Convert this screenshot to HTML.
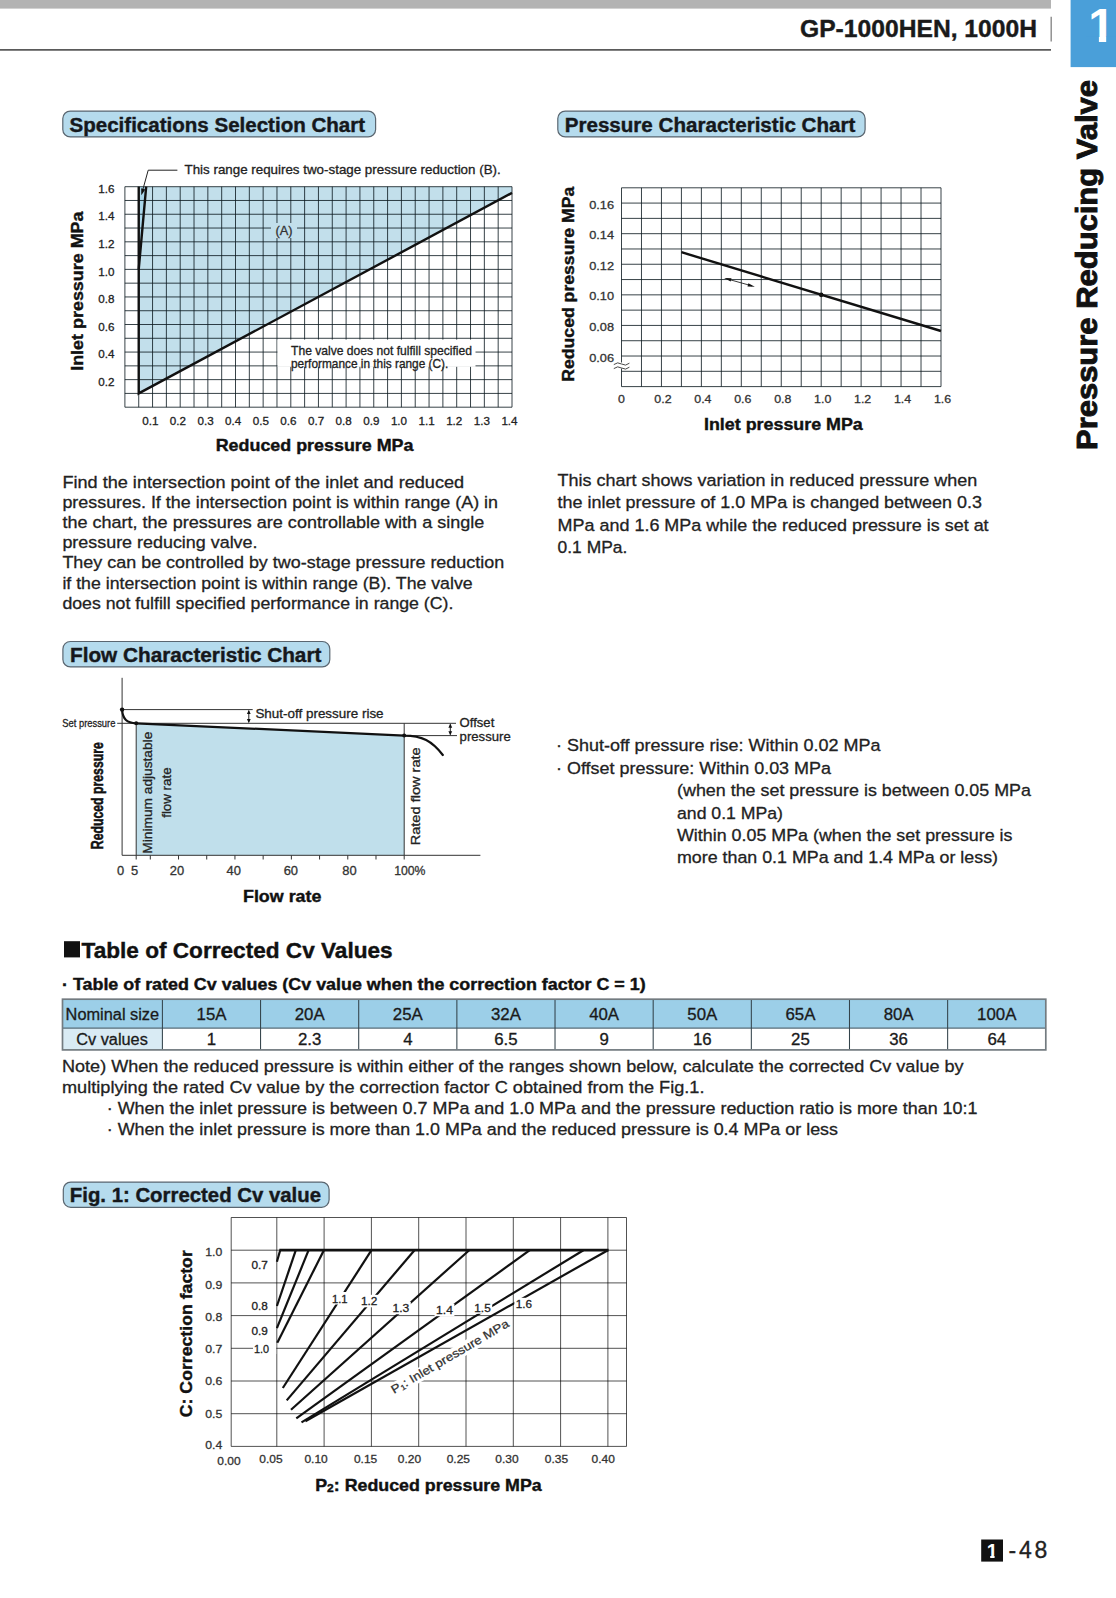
<!DOCTYPE html>
<html lang="en"><head><meta charset="utf-8"><title>GP-1000HEN, 1000H Pressure Reducing Valve</title>
<style>
html,body{margin:0;padding:0;background:#fff;}
body{width:1116px;height:1598px;overflow:hidden;font-family:"Liberation Sans",sans-serif;}
svg{display:block;font-family:"Liberation Sans",sans-serif;}
</style></head><body>
<svg width="1116" height="1598" viewBox="0 0 1116 1598">
<rect x="0.00" y="0.00" width="1051.00" height="8.60" fill="#b3b3b3"/>
<line x1="0.00" y1="49.80" x2="1051.00" y2="49.80" stroke="#5a5a5a" stroke-width="1.70"/>
<line x1="1051.20" y1="16.80" x2="1051.20" y2="41.60" stroke="#8a8a8a" stroke-width="1.40"/>
<rect x="1070.60" y="0.00" width="45.40" height="67.10" fill="#4a9fd9"/>
<text transform="translate(1101.50 41.70)" x="-13.26" y="0" font-size="47.70" font-weight="bold" fill="#fff" textLength="26.53" lengthAdjust="spacingAndGlyphs">1</text>
<rect x="1086.00" y="36.60" width="12.90" height="6.40" fill="#4a9fd9"/>
<rect x="1106.20" y="36.60" width="9.80" height="6.40" fill="#4a9fd9"/>
<text transform="translate(800.00 37.30)" x="0.00" y="0" font-size="24.60" font-weight="bold" fill="#1a1a1a" textLength="237.00" lengthAdjust="spacingAndGlyphs" stroke="#1a1a1a" stroke-width="0.40">GP-1000HEN, 1000H</text>
<text transform="translate(1097.30 450.00) rotate(-90.00)" x="0.00" y="0" font-size="30.00" font-weight="bold" fill="#111" textLength="370.00" lengthAdjust="spacingAndGlyphs" stroke="#111" stroke-width="0.9">Pressure Reducing Valve</text>
<rect x="981.20" y="1539.50" width="21.80" height="22.10" fill="#111"/>
<text transform="translate(992.20 1557.60)" x="-5.42" y="0" font-size="19.50" font-weight="bold" fill="#fff" textLength="10.85" lengthAdjust="spacingAndGlyphs">1</text>
<text transform="translate(1008.60 1558.40)" x="0.00" y="0" font-size="23.00" fill="#222" textLength="38.70" lengthAdjust="spacing" stroke="#222" stroke-width="0.30">-48</text>
<rect x="984.00" y="1555.40" width="6.20" height="3.60" fill="#111"/>
<rect x="994.60" y="1555.40" width="6.90" height="3.60" fill="#111"/>
<rect x="62.80" y="111.10" width="312.80" height="25.80" fill="#b5dbed" stroke="#5a6670" stroke-width="1.20" rx="7.50"/>
<text transform="translate(69.50 132.30)" x="0.00" y="0" font-size="20.00" font-weight="bold" fill="#15181c" textLength="295.60" lengthAdjust="spacingAndGlyphs" stroke="#15181c" stroke-width="0.40">Specifications Selection Chart</text>
<rect x="557.80" y="111.10" width="307.30" height="25.80" fill="#b5dbed" stroke="#5a6670" stroke-width="1.20" rx="7.50"/>
<text transform="translate(564.70 132.30)" x="0.00" y="0" font-size="20.00" font-weight="bold" fill="#15181c" textLength="290.60" lengthAdjust="spacingAndGlyphs" stroke="#15181c" stroke-width="0.40">Pressure Characteristic Chart</text>
<rect x="62.90" y="641.50" width="266.90" height="25.40" fill="#b5dbed" stroke="#5a6670" stroke-width="1.20" rx="7.50"/>
<text transform="translate(70.00 662.20)" x="0.00" y="0" font-size="20.00" font-weight="bold" fill="#15181c" textLength="251.40" lengthAdjust="spacingAndGlyphs" stroke="#15181c" stroke-width="0.40">Flow Characteristic Chart</text>
<rect x="63.30" y="1182.10" width="265.80" height="25.20" fill="#b5dbed" stroke="#5a6670" stroke-width="1.20" rx="7.50"/>
<text transform="translate(69.80 1202.30)" x="0.00" y="0" font-size="20.00" font-weight="bold" fill="#15181c" textLength="251.20" lengthAdjust="spacingAndGlyphs" stroke="#15181c" stroke-width="0.40">Fig. 1: Corrected Cv value</text>
<polygon points="138.72,393.42 138.72,186.70 512.00,186.70 512.00,192.90" fill="#c2dfeb"/>
<polygon points="138.72,269.39 138.72,186.70 146.19,186.70" fill="#a9d6ea"/>
<path d="M124.90 186.70V407.20M138.72 186.70V407.20M152.55 186.70V407.20M166.38 186.70V407.20M180.20 186.70V407.20M194.03 186.70V407.20M207.85 186.70V407.20M221.68 186.70V407.20M235.50 186.70V407.20M249.33 186.70V407.20M263.15 186.70V407.20M276.98 186.70V407.20M290.80 186.70V407.20M304.62 186.70V407.20M318.45 186.70V407.20M332.28 186.70V407.20M346.10 186.70V407.20M359.93 186.70V407.20M373.75 186.70V407.20M387.58 186.70V407.20M401.40 186.70V407.20M415.23 186.70V407.20M429.05 186.70V407.20M442.88 186.70V407.20M456.70 186.70V407.20M470.52 186.70V407.20M484.35 186.70V407.20M498.18 186.70V407.20M512.00 186.70V407.20M124.90 186.70H512.00M124.90 200.48H512.00M124.90 214.26H512.00M124.90 228.04H512.00M124.90 241.82H512.00M124.90 255.61H512.00M124.90 269.39H512.00M124.90 283.17H512.00M124.90 296.95H512.00M124.90 310.73H512.00M124.90 324.51H512.00M124.90 338.29H512.00M124.90 352.07H512.00M124.90 365.86H512.00M124.90 379.64H512.00M124.90 393.42H512.00M124.90 407.20H512.00" stroke="#0c1a20" stroke-opacity="0.82" stroke-width="1" fill="none"/>
<polyline points="146.19,186.70 138.72,269.39 138.72,393.42 512.00,192.90" fill="none" stroke="#111" stroke-width="2.40" stroke-linejoin="miter"/>
<line x1="138.72" y1="186.70" x2="138.72" y2="269.39" stroke="#111" stroke-width="2.40"/>
<rect x="271.00" y="223.00" width="26.00" height="15.00" fill="#c2dfeb"/>
<text transform="translate(284.00 234.50)" x="-8.54" y="0" font-size="12.20" fill="#333" textLength="17.08" lengthAdjust="spacingAndGlyphs" stroke="#333" stroke-width="0.30">(A)</text>
<rect x="277.50" y="339.60" width="198.00" height="27.20" fill="#fff"/>
<text transform="translate(291.00 354.50)" x="0.00" y="0" font-size="12.20" fill="#222" textLength="181.00" lengthAdjust="spacingAndGlyphs" stroke="#222" stroke-width="0.30">The valve does not fulfill specified</text>
<text transform="translate(291.00 367.80)" x="0.00" y="0" font-size="12.20" fill="#222" textLength="157.30" lengthAdjust="spacingAndGlyphs" stroke="#222" stroke-width="0.30">performance in this range (C).</text>
<polyline points="177.40,170.20 148.20,170.20 142.60,190.50" fill="none" stroke="#222" stroke-width="1.00"/>
<polygon points="141.30,195.20 141.20,188.30 145.30,189.60" fill="#111"/>
<text transform="translate(184.50 174.40)" x="0.00" y="0" font-size="12.80" fill="#222" textLength="316.20" lengthAdjust="spacingAndGlyphs" stroke="#222" stroke-width="0.30">This range requires two-stage pressure reduction (B).</text>
<text transform="translate(98.20 385.84)" x="0.00" y="0" font-size="11.80" fill="#222" textLength="16.20" lengthAdjust="spacingAndGlyphs" stroke="#222" stroke-width="0.30">0.2</text>
<text transform="translate(98.20 358.27)" x="0.00" y="0" font-size="11.80" fill="#222" textLength="16.20" lengthAdjust="spacingAndGlyphs" stroke="#222" stroke-width="0.30">0.4</text>
<text transform="translate(98.20 330.71)" x="0.00" y="0" font-size="11.80" fill="#222" textLength="16.20" lengthAdjust="spacingAndGlyphs" stroke="#222" stroke-width="0.30">0.6</text>
<text transform="translate(98.20 303.15)" x="0.00" y="0" font-size="11.80" fill="#222" textLength="16.20" lengthAdjust="spacingAndGlyphs" stroke="#222" stroke-width="0.30">0.8</text>
<text transform="translate(98.20 275.59)" x="0.00" y="0" font-size="11.80" fill="#222" textLength="16.20" lengthAdjust="spacingAndGlyphs" stroke="#222" stroke-width="0.30">1.0</text>
<text transform="translate(98.20 248.02)" x="0.00" y="0" font-size="11.80" fill="#222" textLength="16.20" lengthAdjust="spacingAndGlyphs" stroke="#222" stroke-width="0.30">1.2</text>
<text transform="translate(98.20 220.46)" x="0.00" y="0" font-size="11.80" fill="#222" textLength="16.20" lengthAdjust="spacingAndGlyphs" stroke="#222" stroke-width="0.30">1.4</text>
<text transform="translate(98.20 192.90)" x="0.00" y="0" font-size="11.80" fill="#222" textLength="16.20" lengthAdjust="spacingAndGlyphs" stroke="#222" stroke-width="0.30">1.6</text>
<text transform="translate(150.30 425.00)" x="-8.10" y="0" font-size="11.80" fill="#222" textLength="16.20" lengthAdjust="spacingAndGlyphs" stroke="#222" stroke-width="0.30">0.1</text>
<text transform="translate(177.93 425.00)" x="-8.10" y="0" font-size="11.80" fill="#222" textLength="16.20" lengthAdjust="spacingAndGlyphs" stroke="#222" stroke-width="0.30">0.2</text>
<text transform="translate(205.56 425.00)" x="-8.10" y="0" font-size="11.80" fill="#222" textLength="16.20" lengthAdjust="spacingAndGlyphs" stroke="#222" stroke-width="0.30">0.3</text>
<text transform="translate(233.19 425.00)" x="-8.10" y="0" font-size="11.80" fill="#222" textLength="16.20" lengthAdjust="spacingAndGlyphs" stroke="#222" stroke-width="0.30">0.4</text>
<text transform="translate(260.82 425.00)" x="-8.10" y="0" font-size="11.80" fill="#222" textLength="16.20" lengthAdjust="spacingAndGlyphs" stroke="#222" stroke-width="0.30">0.5</text>
<text transform="translate(288.45 425.00)" x="-8.10" y="0" font-size="11.80" fill="#222" textLength="16.20" lengthAdjust="spacingAndGlyphs" stroke="#222" stroke-width="0.30">0.6</text>
<text transform="translate(316.08 425.00)" x="-8.10" y="0" font-size="11.80" fill="#222" textLength="16.20" lengthAdjust="spacingAndGlyphs" stroke="#222" stroke-width="0.30">0.7</text>
<text transform="translate(343.71 425.00)" x="-8.10" y="0" font-size="11.80" fill="#222" textLength="16.20" lengthAdjust="spacingAndGlyphs" stroke="#222" stroke-width="0.30">0.8</text>
<text transform="translate(371.34 425.00)" x="-8.10" y="0" font-size="11.80" fill="#222" textLength="16.20" lengthAdjust="spacingAndGlyphs" stroke="#222" stroke-width="0.30">0.9</text>
<text transform="translate(398.97 425.00)" x="-8.10" y="0" font-size="11.80" fill="#222" textLength="16.20" lengthAdjust="spacingAndGlyphs" stroke="#222" stroke-width="0.30">1.0</text>
<text transform="translate(426.60 425.00)" x="-8.10" y="0" font-size="11.80" fill="#222" textLength="16.20" lengthAdjust="spacingAndGlyphs" stroke="#222" stroke-width="0.30">1.1</text>
<text transform="translate(454.23 425.00)" x="-8.10" y="0" font-size="11.80" fill="#222" textLength="16.20" lengthAdjust="spacingAndGlyphs" stroke="#222" stroke-width="0.30">1.2</text>
<text transform="translate(481.86 425.00)" x="-8.10" y="0" font-size="11.80" fill="#222" textLength="16.20" lengthAdjust="spacingAndGlyphs" stroke="#222" stroke-width="0.30">1.3</text>
<text transform="translate(509.49 425.00)" x="-8.10" y="0" font-size="11.80" fill="#222" textLength="16.20" lengthAdjust="spacingAndGlyphs" stroke="#222" stroke-width="0.30">1.4</text>
<text transform="translate(215.70 451.00)" x="0.00" y="0" font-size="17.00" font-weight="bold" fill="#111" textLength="197.80" lengthAdjust="spacingAndGlyphs" stroke="#111" stroke-width="0.40">Reduced pressure MPa</text>
<text transform="translate(82.60 370.80) rotate(-90.00)" x="0.00" y="0" font-size="17.00" font-weight="bold" fill="#111" textLength="159.30" lengthAdjust="spacingAndGlyphs" stroke="#111" stroke-width="0.40">Inlet pressure MPa</text>
<path d="M621.50 187.80V386.60M641.47 187.80V386.60M661.44 187.80V386.60M681.41 187.80V386.60M701.38 187.80V386.60M721.34 187.80V386.60M741.31 187.80V386.60M761.28 187.80V386.60M781.25 187.80V386.60M801.22 187.80V386.60M821.19 187.80V386.60M841.16 187.80V386.60M861.12 187.80V386.60M881.09 187.80V386.60M901.06 187.80V386.60M921.03 187.80V386.60M941.00 187.80V386.60M621.50 187.80H941.00M621.50 203.09H941.00M621.50 218.38H941.00M621.50 233.68H941.00M621.50 248.97H941.00M621.50 264.26H941.00M621.50 279.55H941.00M621.50 294.85H941.00M621.50 310.14H941.00M621.50 325.43H941.00M621.50 340.72H941.00M621.50 356.02H941.00M621.50 371.31H941.00M621.50 386.60H941.00" stroke="#0c1a20" stroke-opacity="0.82" stroke-width="1" fill="none"/>
<line x1="681.41" y1="252.20" x2="941.00" y2="331.00" stroke="#111" stroke-width="2.40"/>
<circle cx="821.19" cy="294.85" r="2.3" fill="#111"/>
<line x1="727.00" y1="278.90" x2="752.00" y2="285.90" stroke="#222" stroke-width="0.90"/>
<polygon points="724.20,278.10 731.50,278.20 730.60,281.60" fill="#111"/>
<polygon points="754.80,286.70 747.50,286.60 748.40,283.20" fill="#111"/>
<rect x="618.00" y="362.50" width="7.00" height="6.00" fill="#fff"/>
<path d="M613.8 364.6 q3.8 -3.2 7.8 -0.6 t7.8 -0.8 M613.8 368.6 q3.8 -3.2 7.8 -0.6 t7.8 -0.8" stroke="#333" stroke-width="0.9" fill="none"/>
<text transform="translate(589.20 208.69)" x="0.00" y="0" font-size="11.80" fill="#333" textLength="24.90" lengthAdjust="spacingAndGlyphs" stroke="#333" stroke-width="0.30">0.16</text>
<text transform="translate(589.20 239.28)" x="0.00" y="0" font-size="11.80" fill="#333" textLength="24.90" lengthAdjust="spacingAndGlyphs" stroke="#333" stroke-width="0.30">0.14</text>
<text transform="translate(589.20 269.86)" x="0.00" y="0" font-size="11.80" fill="#333" textLength="24.90" lengthAdjust="spacingAndGlyphs" stroke="#333" stroke-width="0.30">0.12</text>
<text transform="translate(589.20 300.45)" x="0.00" y="0" font-size="11.80" fill="#333" textLength="24.90" lengthAdjust="spacingAndGlyphs" stroke="#333" stroke-width="0.30">0.10</text>
<text transform="translate(589.20 331.03)" x="0.00" y="0" font-size="11.80" fill="#333" textLength="24.90" lengthAdjust="spacingAndGlyphs" stroke="#333" stroke-width="0.30">0.08</text>
<text transform="translate(589.20 361.62)" x="0.00" y="0" font-size="11.80" fill="#333" textLength="24.90" lengthAdjust="spacingAndGlyphs" stroke="#333" stroke-width="0.30">0.06</text>
<text transform="translate(621.50 403.20)" x="-3.45" y="0" font-size="11.80" fill="#333" textLength="6.89" lengthAdjust="spacingAndGlyphs" stroke="#333" stroke-width="0.30">0</text>
<text transform="translate(662.94 403.20)" x="-8.61" y="0" font-size="11.80" fill="#333" textLength="17.22" lengthAdjust="spacingAndGlyphs" stroke="#333" stroke-width="0.30">0.2</text>
<text transform="translate(702.88 403.20)" x="-8.61" y="0" font-size="11.80" fill="#333" textLength="17.22" lengthAdjust="spacingAndGlyphs" stroke="#333" stroke-width="0.30">0.4</text>
<text transform="translate(742.81 403.20)" x="-8.61" y="0" font-size="11.80" fill="#333" textLength="17.22" lengthAdjust="spacingAndGlyphs" stroke="#333" stroke-width="0.30">0.6</text>
<text transform="translate(782.75 403.20)" x="-8.61" y="0" font-size="11.80" fill="#333" textLength="17.22" lengthAdjust="spacingAndGlyphs" stroke="#333" stroke-width="0.30">0.8</text>
<text transform="translate(822.69 403.20)" x="-8.61" y="0" font-size="11.80" fill="#333" textLength="17.22" lengthAdjust="spacingAndGlyphs" stroke="#333" stroke-width="0.30">1.0</text>
<text transform="translate(862.62 403.20)" x="-8.61" y="0" font-size="11.80" fill="#333" textLength="17.22" lengthAdjust="spacingAndGlyphs" stroke="#333" stroke-width="0.30">1.2</text>
<text transform="translate(902.56 403.20)" x="-8.61" y="0" font-size="11.80" fill="#333" textLength="17.22" lengthAdjust="spacingAndGlyphs" stroke="#333" stroke-width="0.30">1.4</text>
<text transform="translate(942.50 403.20)" x="-8.61" y="0" font-size="11.80" fill="#333" textLength="17.22" lengthAdjust="spacingAndGlyphs" stroke="#333" stroke-width="0.30">1.6</text>
<text transform="translate(704.00 430.00)" x="0.00" y="0" font-size="17.00" font-weight="bold" fill="#111" textLength="158.80" lengthAdjust="spacingAndGlyphs" stroke="#111" stroke-width="0.40">Inlet pressure MPa</text>
<text transform="translate(574.20 381.70) rotate(-90.00)" x="0.00" y="0" font-size="17.00" font-weight="bold" fill="#111" textLength="194.90" lengthAdjust="spacingAndGlyphs" stroke="#111" stroke-width="0.40">Reduced pressure MPa</text>
<text transform="translate(62.40 487.80)" x="0.00" y="0" font-size="17.10" fill="#222" textLength="401.70" lengthAdjust="spacingAndGlyphs" stroke="#222" stroke-width="0.30">Find the intersection point of the inlet and reduced</text>
<text transform="translate(62.40 507.97)" x="0.00" y="0" font-size="17.10" fill="#222" textLength="435.60" lengthAdjust="spacingAndGlyphs" stroke="#222" stroke-width="0.30">pressures. If the intersection point is within range (A) in</text>
<text transform="translate(62.40 528.14)" x="0.00" y="0" font-size="17.10" fill="#222" textLength="421.90" lengthAdjust="spacingAndGlyphs" stroke="#222" stroke-width="0.30">the chart, the pressures are controllable with a single</text>
<text transform="translate(62.40 548.31)" x="0.00" y="0" font-size="17.10" fill="#222" textLength="195.10" lengthAdjust="spacingAndGlyphs" stroke="#222" stroke-width="0.30">pressure reducing valve.</text>
<text transform="translate(62.40 568.48)" x="0.00" y="0" font-size="17.10" fill="#222" textLength="441.80" lengthAdjust="spacingAndGlyphs" stroke="#222" stroke-width="0.30">They can be controlled by two-stage pressure reduction</text>
<text transform="translate(62.40 588.65)" x="0.00" y="0" font-size="17.10" fill="#222" textLength="410.20" lengthAdjust="spacingAndGlyphs" stroke="#222" stroke-width="0.30">if the intersection point is within range (B). The valve</text>
<text transform="translate(62.40 608.82)" x="0.00" y="0" font-size="17.10" fill="#222" textLength="391.00" lengthAdjust="spacingAndGlyphs" stroke="#222" stroke-width="0.30">does not fulfill specified performance in range (C).</text>
<text transform="translate(557.60 486.30)" x="0.00" y="0" font-size="17.10" fill="#222" textLength="419.60" lengthAdjust="spacingAndGlyphs" stroke="#222" stroke-width="0.30">This chart shows variation in reduced pressure when</text>
<text transform="translate(557.60 508.47)" x="0.00" y="0" font-size="17.10" fill="#222" textLength="424.40" lengthAdjust="spacingAndGlyphs" stroke="#222" stroke-width="0.30">the inlet pressure of 1.0 MPa is changed between 0.3</text>
<text transform="translate(557.60 530.64)" x="0.00" y="0" font-size="17.10" fill="#222" textLength="431.00" lengthAdjust="spacingAndGlyphs" stroke="#222" stroke-width="0.30">MPa and 1.6 MPa while the reduced pressure is set at</text>
<text transform="translate(557.60 552.81)" x="0.00" y="0" font-size="17.10" fill="#222" textLength="69.70" lengthAdjust="spacingAndGlyphs" stroke="#222" stroke-width="0.30">0.1 MPa.</text>
<text transform="translate(556.00 751.30)" x="0.00" y="0" font-size="17.10" fill="#222" textLength="324.40" lengthAdjust="spacingAndGlyphs" stroke="#222" stroke-width="0.30">· Shut-off pressure rise: Within 0.02 MPa</text>
<text transform="translate(556.00 773.80)" x="0.00" y="0" font-size="17.10" fill="#222" textLength="275.00" lengthAdjust="spacingAndGlyphs" stroke="#222" stroke-width="0.30">· Offset pressure: Within 0.03 MPa</text>
<text transform="translate(677.00 796.30)" x="0.00" y="0" font-size="17.10" fill="#222" textLength="354.00" lengthAdjust="spacingAndGlyphs" stroke="#222" stroke-width="0.30">(when the set pressure is between 0.05 MPa</text>
<text transform="translate(677.00 818.50)" x="0.00" y="0" font-size="17.10" fill="#222" textLength="106.00" lengthAdjust="spacingAndGlyphs" stroke="#222" stroke-width="0.30">and 0.1 MPa)</text>
<text transform="translate(677.00 840.90)" x="0.00" y="0" font-size="17.10" fill="#222" textLength="335.50" lengthAdjust="spacingAndGlyphs" stroke="#222" stroke-width="0.30">Within 0.05 MPa (when the set pressure is</text>
<text transform="translate(677.00 863.20)" x="0.00" y="0" font-size="17.10" fill="#222" textLength="321.00" lengthAdjust="spacingAndGlyphs" stroke="#222" stroke-width="0.30">more than 0.1 MPa and 1.4 MPa or less)</text>
<polygon points="136.20,723.30 404.20,735.60 404.20,855.30 136.20,855.30" fill="#c0dfeb"/>
<line x1="122.10" y1="677.80" x2="122.10" y2="855.30" stroke="#333" stroke-width="1.00"/>
<line x1="122.10" y1="855.30" x2="480.40" y2="855.30" stroke="#333" stroke-width="1.00"/>
<line x1="136.20" y1="855.30" x2="136.20" y2="859.50" stroke="#333" stroke-width="1.00"/>
<line x1="150.31" y1="855.30" x2="150.31" y2="859.50" stroke="#333" stroke-width="1.00"/>
<line x1="178.52" y1="855.30" x2="178.52" y2="859.50" stroke="#333" stroke-width="1.00"/>
<line x1="206.73" y1="855.30" x2="206.73" y2="859.50" stroke="#333" stroke-width="1.00"/>
<line x1="234.94" y1="855.30" x2="234.94" y2="859.50" stroke="#333" stroke-width="1.00"/>
<line x1="263.15" y1="855.30" x2="263.15" y2="859.50" stroke="#333" stroke-width="1.00"/>
<line x1="291.36" y1="855.30" x2="291.36" y2="859.50" stroke="#333" stroke-width="1.00"/>
<line x1="319.57" y1="855.30" x2="319.57" y2="859.50" stroke="#333" stroke-width="1.00"/>
<line x1="347.78" y1="855.30" x2="347.78" y2="859.50" stroke="#333" stroke-width="1.00"/>
<line x1="375.99" y1="855.30" x2="375.99" y2="859.50" stroke="#333" stroke-width="1.00"/>
<line x1="404.20" y1="855.30" x2="404.20" y2="859.50" stroke="#333" stroke-width="1.00"/>
<line x1="136.20" y1="723.30" x2="136.20" y2="855.30" stroke="#333" stroke-width="1.00"/>
<line x1="404.20" y1="723.30" x2="404.20" y2="855.30" stroke="#333" stroke-width="1.00"/>
<line x1="117.20" y1="723.30" x2="456.00" y2="723.30" stroke="#333" stroke-width="1.00"/>
<line x1="122.10" y1="709.60" x2="252.70" y2="709.60" stroke="#333" stroke-width="1.00"/>
<line x1="404.20" y1="735.60" x2="457.00" y2="735.60" stroke="#333" stroke-width="1.00"/>
<path d="M122.10 709.60 C122.70 719.50 127.00 722.80 136.20 723.30 L404.20 735.60 C422.00 735.60 432.00 741.00 442.80 755.00" stroke="#111" stroke-width="2.2" fill="none" stroke-linecap="round"/>
<circle cx="122.10" cy="709.60" r="2.2" fill="#111"/>
<circle cx="136.20" cy="723.30" r="2.0" fill="#111"/>
<circle cx="404.20" cy="735.60" r="2.0" fill="#111"/>
<line x1="248.80" y1="710.60" x2="248.80" y2="722.30" stroke="#222" stroke-width="1.00"/>
<polygon points="248.80,709.90 246.90,714.00 250.70,714.00" fill="#111"/>
<polygon points="248.80,723.00 246.90,718.90 250.70,718.90" fill="#111"/>
<line x1="450.30" y1="724.30" x2="450.30" y2="734.60" stroke="#222" stroke-width="1.00"/>
<polygon points="450.30,723.60 448.40,727.70 452.20,727.70" fill="#111"/>
<polygon points="450.30,735.30 448.40,731.20 452.20,731.20" fill="#111"/>
<text transform="translate(255.40 717.80)" x="0.00" y="0" font-size="13.30" fill="#222" textLength="128.20" lengthAdjust="spacingAndGlyphs" stroke="#222" stroke-width="0.30">Shut-off pressure rise</text>
<text transform="translate(459.60 726.60)" x="0.00" y="0" font-size="13.30" fill="#222" textLength="34.70" lengthAdjust="spacingAndGlyphs" stroke="#222" stroke-width="0.30">Offset</text>
<text transform="translate(459.60 740.50)" x="0.00" y="0" font-size="13.30" fill="#222" textLength="51.10" lengthAdjust="spacingAndGlyphs" stroke="#222" stroke-width="0.30">pressure</text>
<text transform="translate(419.50 845.30) rotate(-90.00)" x="0.00" y="0" font-size="13.30" fill="#222" textLength="98.00" lengthAdjust="spacingAndGlyphs" stroke="#222" stroke-width="0.30">Rated flow rate</text>
<text transform="translate(151.90 853.70) rotate(-90.00)" x="0.00" y="0" font-size="13.30" fill="#222" textLength="122.00" lengthAdjust="spacingAndGlyphs" stroke="#222" stroke-width="0.30">Minimum adjustable</text>
<text transform="translate(170.50 817.80) rotate(-90.00)" x="0.00" y="0" font-size="13.30" fill="#222" textLength="50.40" lengthAdjust="spacingAndGlyphs" stroke="#222" stroke-width="0.30">flow rate</text>
<text transform="translate(103.30 849.20) rotate(-90.00)" x="0.00" y="0" font-size="17.00" font-weight="bold" fill="#111" textLength="107.00" lengthAdjust="spacingAndGlyphs" stroke="#111" stroke-width="0.55">Reduced pressure</text>
<text transform="translate(62.30 726.50)" x="0.00" y="0" font-size="11.50" fill="#222" textLength="53.10" lengthAdjust="spacingAndGlyphs" stroke="#222" stroke-width="0.30">Set pressure</text>
<text transform="translate(120.60 875.00)" x="-3.59" y="0" font-size="12.30" fill="#333" textLength="7.18" lengthAdjust="spacingAndGlyphs" stroke="#333" stroke-width="0.30">0</text>
<text transform="translate(134.70 875.00)" x="-3.59" y="0" font-size="12.30" fill="#333" textLength="7.18" lengthAdjust="spacingAndGlyphs" stroke="#333" stroke-width="0.30">5</text>
<text transform="translate(177.00 875.00)" x="-7.18" y="0" font-size="12.30" fill="#333" textLength="14.37" lengthAdjust="spacingAndGlyphs" stroke="#333" stroke-width="0.30">20</text>
<text transform="translate(233.70 875.00)" x="-7.18" y="0" font-size="12.30" fill="#333" textLength="14.37" lengthAdjust="spacingAndGlyphs" stroke="#333" stroke-width="0.30">40</text>
<text transform="translate(290.80 875.00)" x="-7.18" y="0" font-size="12.30" fill="#333" textLength="14.37" lengthAdjust="spacingAndGlyphs" stroke="#333" stroke-width="0.30">60</text>
<text transform="translate(349.40 875.00)" x="-7.18" y="0" font-size="12.30" fill="#333" textLength="14.37" lengthAdjust="spacingAndGlyphs" stroke="#333" stroke-width="0.30">80</text>
<text transform="translate(394.20 875.00)" x="0.00" y="0" font-size="12.30" fill="#333" textLength="31.30" lengthAdjust="spacingAndGlyphs" stroke="#333" stroke-width="0.30">100%</text>
<text transform="translate(243.00 902.00)" x="0.00" y="0" font-size="17.00" font-weight="bold" fill="#111" textLength="78.40" lengthAdjust="spacingAndGlyphs" stroke="#111" stroke-width="0.40">Flow rate</text>
<rect x="64.00" y="941.20" width="16.00" height="16.20" fill="#111"/>
<text transform="translate(81.50 957.60)" x="0.00" y="0" font-size="22.00" font-weight="bold" fill="#111" textLength="311.20" lengthAdjust="spacingAndGlyphs" stroke="#111" stroke-width="0.40">Table of Corrected Cv Values</text>
<text transform="translate(62.00 990.20)" x="0.00" y="0" font-size="16.50" font-weight="bold" fill="#111" textLength="583.70" lengthAdjust="spacingAndGlyphs" stroke="#111" stroke-width="0.40">· Table of rated Cv values (Cv value when the correction factor C = 1)</text>
<rect x="62.50" y="999.50" width="983.30" height="28.60" fill="#9ccfe8"/>
<rect x="62.50" y="1028.10" width="99.90" height="21.60" fill="#d9ebf4"/>
<rect x="162.40" y="1028.10" width="883.40" height="21.60" fill="#fff"/>
<path d="M62.50 1028.10H1045.80" stroke="#566d78" stroke-width="1.4" fill="none"/>
<path d="M162.40 999.50V1049.70M260.56 999.50V1049.70M358.71 999.50V1049.70M456.87 999.50V1049.70M555.02 999.50V1049.70M653.18 999.50V1049.70M751.33 999.50V1049.70M849.49 999.50V1049.70M947.64 999.50V1049.70" stroke="#33434b" stroke-width="1.05" fill="none"/>
<rect x="62.50" y="999.20" width="983.30" height="50.70" fill="none" stroke="#737b80" stroke-width="1.70"/>
<text transform="translate(65.60 1020.10)" x="0.00" y="0" font-size="16.00" fill="#1a1a1a" textLength="93.50" lengthAdjust="spacingAndGlyphs" stroke="#1a1a1a" stroke-width="0.30">Nominal size</text>
<text transform="translate(76.30 1044.70)" x="0.00" y="0" font-size="16.00" fill="#1a1a1a" textLength="71.50" lengthAdjust="spacingAndGlyphs" stroke="#1a1a1a" stroke-width="0.30">Cv values</text>
<text transform="translate(211.48 1020.10)" x="-14.95" y="0" font-size="16.00" fill="#1a1a1a" textLength="29.89" lengthAdjust="spacingAndGlyphs" stroke="#1a1a1a" stroke-width="0.30">15A</text>
<text transform="translate(211.48 1044.70)" x="-4.67" y="0" font-size="16.00" fill="#1a1a1a" textLength="9.34" lengthAdjust="spacingAndGlyphs" stroke="#1a1a1a" stroke-width="0.30">1</text>
<text transform="translate(309.63 1020.10)" x="-14.95" y="0" font-size="16.00" fill="#1a1a1a" textLength="29.89" lengthAdjust="spacingAndGlyphs" stroke="#1a1a1a" stroke-width="0.30">20A</text>
<text transform="translate(309.63 1044.70)" x="-11.68" y="0" font-size="16.00" fill="#1a1a1a" textLength="23.35" lengthAdjust="spacingAndGlyphs" stroke="#1a1a1a" stroke-width="0.30">2.3</text>
<text transform="translate(407.79 1020.10)" x="-14.95" y="0" font-size="16.00" fill="#1a1a1a" textLength="29.89" lengthAdjust="spacingAndGlyphs" stroke="#1a1a1a" stroke-width="0.30">25A</text>
<text transform="translate(407.79 1044.70)" x="-4.67" y="0" font-size="16.00" fill="#1a1a1a" textLength="9.34" lengthAdjust="spacingAndGlyphs" stroke="#1a1a1a" stroke-width="0.30">4</text>
<text transform="translate(505.94 1020.10)" x="-14.95" y="0" font-size="16.00" fill="#1a1a1a" textLength="29.89" lengthAdjust="spacingAndGlyphs" stroke="#1a1a1a" stroke-width="0.30">32A</text>
<text transform="translate(505.94 1044.70)" x="-11.68" y="0" font-size="16.00" fill="#1a1a1a" textLength="23.35" lengthAdjust="spacingAndGlyphs" stroke="#1a1a1a" stroke-width="0.30">6.5</text>
<text transform="translate(604.10 1020.10)" x="-14.95" y="0" font-size="16.00" fill="#1a1a1a" textLength="29.89" lengthAdjust="spacingAndGlyphs" stroke="#1a1a1a" stroke-width="0.30">40A</text>
<text transform="translate(604.10 1044.70)" x="-4.67" y="0" font-size="16.00" fill="#1a1a1a" textLength="9.34" lengthAdjust="spacingAndGlyphs" stroke="#1a1a1a" stroke-width="0.30">9</text>
<text transform="translate(702.26 1020.10)" x="-14.95" y="0" font-size="16.00" fill="#1a1a1a" textLength="29.89" lengthAdjust="spacingAndGlyphs" stroke="#1a1a1a" stroke-width="0.30">50A</text>
<text transform="translate(702.26 1044.70)" x="-9.34" y="0" font-size="16.00" fill="#1a1a1a" textLength="18.69" lengthAdjust="spacingAndGlyphs" stroke="#1a1a1a" stroke-width="0.30">16</text>
<text transform="translate(800.41 1020.10)" x="-14.95" y="0" font-size="16.00" fill="#1a1a1a" textLength="29.89" lengthAdjust="spacingAndGlyphs" stroke="#1a1a1a" stroke-width="0.30">65A</text>
<text transform="translate(800.41 1044.70)" x="-9.34" y="0" font-size="16.00" fill="#1a1a1a" textLength="18.69" lengthAdjust="spacingAndGlyphs" stroke="#1a1a1a" stroke-width="0.30">25</text>
<text transform="translate(898.57 1020.10)" x="-14.95" y="0" font-size="16.00" fill="#1a1a1a" textLength="29.89" lengthAdjust="spacingAndGlyphs" stroke="#1a1a1a" stroke-width="0.30">80A</text>
<text transform="translate(898.57 1044.70)" x="-9.34" y="0" font-size="16.00" fill="#1a1a1a" textLength="18.69" lengthAdjust="spacingAndGlyphs" stroke="#1a1a1a" stroke-width="0.30">36</text>
<text transform="translate(996.72 1020.10)" x="-19.62" y="0" font-size="16.00" fill="#1a1a1a" textLength="39.24" lengthAdjust="spacingAndGlyphs" stroke="#1a1a1a" stroke-width="0.30">100A</text>
<text transform="translate(996.72 1044.70)" x="-9.34" y="0" font-size="16.00" fill="#1a1a1a" textLength="18.69" lengthAdjust="spacingAndGlyphs" stroke="#1a1a1a" stroke-width="0.30">64</text>
<text transform="translate(62.00 1071.50)" x="0.00" y="0" font-size="17.10" fill="#222" textLength="901.60" lengthAdjust="spacingAndGlyphs" stroke="#222" stroke-width="0.30">Note) When the reduced pressure is within either of the ranges shown below, calculate the corrected Cv value by</text>
<text transform="translate(62.00 1092.50)" x="0.00" y="0" font-size="17.10" fill="#222" textLength="642.50" lengthAdjust="spacingAndGlyphs" stroke="#222" stroke-width="0.30">multiplying the rated Cv value by the correction factor C obtained from the Fig.1.</text>
<text transform="translate(106.70 1113.50)" x="0.00" y="0" font-size="17.10" fill="#222" textLength="870.80" lengthAdjust="spacingAndGlyphs" stroke="#222" stroke-width="0.30">· When the inlet pressure is between 0.7 MPa and 1.0 MPa and the pressure reduction ratio is more than 10:1</text>
<text transform="translate(106.70 1134.50)" x="0.00" y="0" font-size="17.10" fill="#222" textLength="731.30" lengthAdjust="spacingAndGlyphs" stroke="#222" stroke-width="0.30">· When the inlet pressure is more than 1.0 MPa and the reduced pressure is 0.4 MPa or less</text>
<path d="M231.20 1217.50V1446.40M276.80 1217.50V1446.40M324.10 1217.50V1446.40M371.40 1217.50V1446.40M418.70 1217.50V1446.40M466.00 1217.50V1446.40M513.30 1217.50V1446.40M560.60 1217.50V1446.40M607.90 1217.50V1446.40M626.50 1217.50V1446.40M231.20 1217.50H626.50M231.20 1250.20H626.50M231.20 1282.90H626.50M231.20 1315.60H626.50M231.20 1348.30H626.50M231.20 1381.00H626.50M231.20 1413.70H626.50M231.20 1446.40H626.50" stroke="#000" stroke-opacity="0.68" stroke-width="1" fill="none"/>
<g transform="translate(394 1394) rotate(-30.40)">
<rect x="-2.00" y="-10.50" width="137.00" height="13.70" fill="#fff"/>
</g>
<line x1="276.90" y1="1261.70" x2="280.20" y2="1250.20" stroke="#111" stroke-width="2.20"/>
<line x1="276.90" y1="1306.00" x2="295.80" y2="1250.20" stroke="#111" stroke-width="2.20"/>
<line x1="276.90" y1="1328.10" x2="308.60" y2="1250.20" stroke="#111" stroke-width="2.20"/>
<line x1="277.30" y1="1342.80" x2="323.90" y2="1250.20" stroke="#111" stroke-width="2.20"/>
<line x1="282.80" y1="1388.00" x2="371.50" y2="1250.20" stroke="#111" stroke-width="2.20"/>
<line x1="286.70" y1="1400.40" x2="414.50" y2="1250.20" stroke="#111" stroke-width="2.20"/>
<line x1="291.00" y1="1409.70" x2="469.20" y2="1250.20" stroke="#111" stroke-width="2.20"/>
<line x1="296.30" y1="1418.30" x2="529.80" y2="1250.20" stroke="#111" stroke-width="2.20"/>
<line x1="301.50" y1="1422.40" x2="583.40" y2="1250.20" stroke="#111" stroke-width="2.20"/>
<line x1="305.40" y1="1421.30" x2="607.90" y2="1250.20" stroke="#111" stroke-width="2.20"/>
<line x1="279.30" y1="1250.20" x2="608.60" y2="1250.20" stroke="#111" stroke-width="2.70"/>
<rect x="253.00" y="1343.00" width="23.20" height="11.00" fill="#fff"/>
<text transform="translate(251.50 1269.20)" x="0.00" y="0" font-size="11.40" fill="#222" textLength="16.40" lengthAdjust="spacingAndGlyphs" stroke="#222" stroke-width="0.30">0.7</text>
<text transform="translate(251.50 1309.50)" x="0.00" y="0" font-size="11.40" fill="#222" textLength="16.40" lengthAdjust="spacingAndGlyphs" stroke="#222" stroke-width="0.30">0.8</text>
<text transform="translate(251.50 1334.70)" x="0.00" y="0" font-size="11.40" fill="#222" textLength="16.40" lengthAdjust="spacingAndGlyphs" stroke="#222" stroke-width="0.30">0.9</text>
<text transform="translate(253.90 1352.60)" x="0.00" y="0" font-size="11.40" fill="#222" textLength="15.10" lengthAdjust="spacingAndGlyphs" stroke="#222" stroke-width="0.30">1.0</text>
<rect x="330.40" y="1292.00" width="18.60" height="12.50" fill="#fff"/>
<text transform="translate(331.90 1302.50)" x="0.00" y="0" font-size="11.40" fill="#222" textLength="15.60" lengthAdjust="spacingAndGlyphs" stroke="#222" stroke-width="0.30">1.1</text>
<rect x="359.50" y="1294.80" width="19.40" height="12.50" fill="#fff"/>
<text transform="translate(361.00 1305.30)" x="0.00" y="0" font-size="11.40" fill="#222" textLength="16.40" lengthAdjust="spacingAndGlyphs" stroke="#222" stroke-width="0.30">1.2</text>
<rect x="391.00" y="1301.80" width="19.80" height="12.50" fill="#fff"/>
<text transform="translate(392.50 1312.30)" x="0.00" y="0" font-size="11.40" fill="#222" textLength="16.80" lengthAdjust="spacingAndGlyphs" stroke="#222" stroke-width="0.30">1.3</text>
<rect x="434.60" y="1303.70" width="19.80" height="12.50" fill="#fff"/>
<text transform="translate(436.10 1314.20)" x="0.00" y="0" font-size="11.40" fill="#222" textLength="16.80" lengthAdjust="spacingAndGlyphs" stroke="#222" stroke-width="0.30">1.4</text>
<rect x="472.80" y="1301.30" width="19.40" height="12.50" fill="#fff"/>
<text transform="translate(474.30 1311.80)" x="0.00" y="0" font-size="11.40" fill="#222" textLength="16.40" lengthAdjust="spacingAndGlyphs" stroke="#222" stroke-width="0.30">1.5</text>
<rect x="514.30" y="1297.80" width="19.30" height="12.50" fill="#fff"/>
<text transform="translate(515.80 1308.30)" x="0.00" y="0" font-size="11.40" fill="#222" textLength="16.30" lengthAdjust="spacingAndGlyphs" stroke="#222" stroke-width="0.30">1.6</text>
<g transform="translate(394 1394) rotate(-30.40)">
<text x="0" y="0" font-size="11.8" fill="#333" stroke="#333" stroke-width="0.25" textLength="134.5" lengthAdjust="spacingAndGlyphs">P<tspan font-size="7.5" dy="1.5">1</tspan><tspan dy="-1.5">: Inlet pressure MPa</tspan></text>
</g>
<text transform="translate(205.20 1255.90)" x="0.00" y="0" font-size="11.40" fill="#333" textLength="17.00" lengthAdjust="spacingAndGlyphs" stroke="#333" stroke-width="0.30">1.0</text>
<text transform="translate(205.20 1288.50)" x="0.00" y="0" font-size="11.40" fill="#333" textLength="17.00" lengthAdjust="spacingAndGlyphs" stroke="#333" stroke-width="0.30">0.9</text>
<text transform="translate(205.20 1320.70)" x="0.00" y="0" font-size="11.40" fill="#333" textLength="17.00" lengthAdjust="spacingAndGlyphs" stroke="#333" stroke-width="0.30">0.8</text>
<text transform="translate(205.20 1352.60)" x="0.00" y="0" font-size="11.40" fill="#333" textLength="17.00" lengthAdjust="spacingAndGlyphs" stroke="#333" stroke-width="0.30">0.7</text>
<text transform="translate(205.20 1385.20)" x="0.00" y="0" font-size="11.40" fill="#333" textLength="17.00" lengthAdjust="spacingAndGlyphs" stroke="#333" stroke-width="0.30">0.6</text>
<text transform="translate(205.20 1417.80)" x="0.00" y="0" font-size="11.40" fill="#333" textLength="17.00" lengthAdjust="spacingAndGlyphs" stroke="#333" stroke-width="0.30">0.5</text>
<text transform="translate(205.20 1449.30)" x="0.00" y="0" font-size="11.40" fill="#333" textLength="17.00" lengthAdjust="spacingAndGlyphs" stroke="#333" stroke-width="0.30">0.4</text>
<text transform="translate(229.00 1464.80)" x="-11.65" y="0" font-size="11.40" fill="#333" textLength="23.30" lengthAdjust="spacingAndGlyphs" stroke="#333" stroke-width="0.30">0.00</text>
<text transform="translate(271.00 1463.30)" x="-11.65" y="0" font-size="11.40" fill="#333" textLength="23.30" lengthAdjust="spacingAndGlyphs" stroke="#333" stroke-width="0.30">0.05</text>
<text transform="translate(316.10 1463.30)" x="-11.65" y="0" font-size="11.40" fill="#333" textLength="23.30" lengthAdjust="spacingAndGlyphs" stroke="#333" stroke-width="0.30">0.10</text>
<text transform="translate(365.60 1463.30)" x="-11.65" y="0" font-size="11.40" fill="#333" textLength="23.30" lengthAdjust="spacingAndGlyphs" stroke="#333" stroke-width="0.30">0.15</text>
<text transform="translate(409.40 1463.30)" x="-11.65" y="0" font-size="11.40" fill="#333" textLength="23.30" lengthAdjust="spacingAndGlyphs" stroke="#333" stroke-width="0.30">0.20</text>
<text transform="translate(458.30 1463.30)" x="-11.65" y="0" font-size="11.40" fill="#333" textLength="23.30" lengthAdjust="spacingAndGlyphs" stroke="#333" stroke-width="0.30">0.25</text>
<text transform="translate(507.00 1463.30)" x="-11.65" y="0" font-size="11.40" fill="#333" textLength="23.30" lengthAdjust="spacingAndGlyphs" stroke="#333" stroke-width="0.30">0.30</text>
<text transform="translate(556.40 1463.30)" x="-11.65" y="0" font-size="11.40" fill="#333" textLength="23.30" lengthAdjust="spacingAndGlyphs" stroke="#333" stroke-width="0.30">0.35</text>
<text transform="translate(603.20 1463.30)" x="-11.65" y="0" font-size="11.40" fill="#333" textLength="23.30" lengthAdjust="spacingAndGlyphs" stroke="#333" stroke-width="0.30">0.40</text>
<text x="315.2" y="1490.8" font-size="17" font-weight="bold" fill="#111" stroke="#111" stroke-width="0.4" textLength="226.5" lengthAdjust="spacingAndGlyphs">P<tspan font-size="11.5" dy="1.5">2</tspan><tspan dy="-1.5">: Reduced pressure MPa</tspan></text>
<text transform="translate(192.10 1417.20) rotate(-90.00)" x="0.00" y="0" font-size="17.00" font-weight="bold" fill="#111" textLength="167.00" lengthAdjust="spacingAndGlyphs" stroke="#111" stroke-width="0.40">C: Correction factor</text>
</svg>
</body></html>
